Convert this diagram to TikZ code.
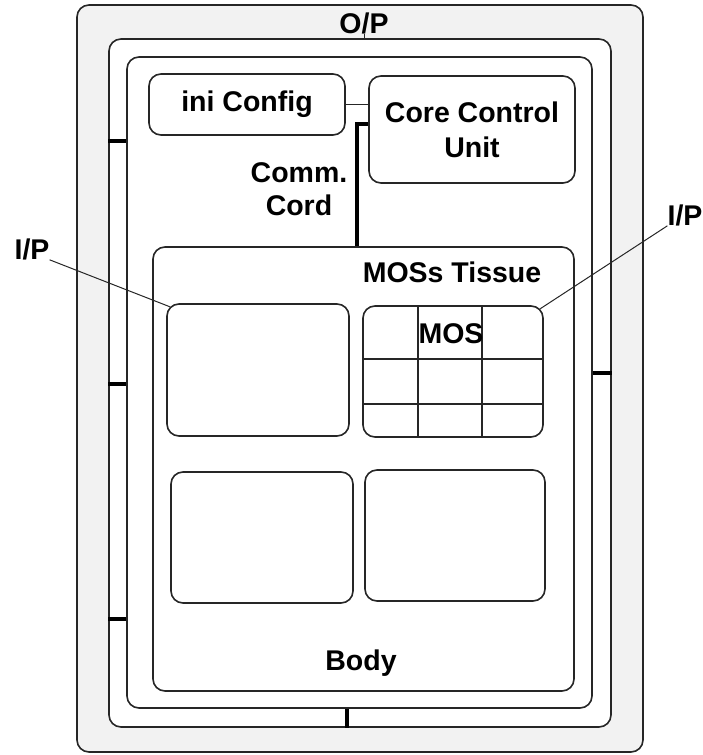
\documentclass[tikz,border=0pt]{standalone}
\usepackage{fontspec}
\setmainfont{Liberation Sans}

\begin{document}
\begin{tikzpicture}[x=1pt, y=-1pt,
  box/.style={draw=black!85, line width=1.6pt, rounded corners=12pt, fill=white, inner sep=0pt},
  lbl/.style={font=\fontsize{28.5}{35}\selectfont\bfseries, inner sep=0pt, align=center},
  tick/.style={draw=black, line width=3.2pt},
  wire/.style={draw=black!85, line width=1.6pt},
  lead/.style={draw=black!85, line width=1pt}]
  \useasboundingbox (0,0) rectangle (703,755);
  \node[box, fill=gray!10, minimum width=566pt, minimum height=747pt] (case) at (360,378.5) {};
  \node[box, minimum width=502pt, minimum height=688pt] (wall) at (360,383) {};
  \node[box, minimum width=465pt, minimum height=651pt] (skin) at (359.5,382.5) {};
  \node[box, minimum width=421pt, minimum height=444pt] (body) at (363.5,469) {};
  \node[box, lbl, minimum width=196pt, minimum height=61pt] (ini) at (247,104.5) {ini Config};
  \node[box, lbl, minimum width=206pt, minimum height=107pt] (ccu) at (472,129.5) {Core Control\\Unit};
  \node[box, minimum width=182pt, minimum height=132pt] (tisa) at (258,370) {};
  \node[box, minimum width=180pt, minimum height=131pt] (mos) at (453,371.5) {};
  \node[box, minimum width=182pt, minimum height=131pt] (tisc) at (262,537.5) {};
  \node[box, minimum width=180pt, minimum height=131pt] (tisd) at (455,535.5) {};
  \foreach \x in {418,482}
    \draw[wire] (\x,0 |- mos.north) -- (\x,0 |- mos.south);
  \foreach \y in {359,404}
    \draw[wire] (mos.west |- 0,\y) -- (mos.east |- 0,\y);
  \node[lbl] (moslbl) at (451,334) {MOS};
  \node[lbl] (tissue) at (452,272.5) {MOSs Tissue};
  \node[lbl] (bodylbl) at (361,663) {Body};
  \node[lbl] (comm) at (299,189) {Comm.\\[-2pt]Cord};
  \node[lbl] (op) at (364,23.5) {O/P};
  \node[lbl] (ipl) at (32,249) {I/P};
  \node[lbl] (ipr) at (685,215) {I/P};
  \draw[wire] (ini.east) -- (ini.east -| ccu.west);
  \draw[tick] ([yshift=5.5pt]ccu.west) -| (body.north -| 357,0);
  \draw[lead] (op.south) -- (op.south |- wall.north);
  \draw[lead] (ipl.south east) -- ([shift={(3.5,3.5)}]tisa.north west);
  \draw[lead] (ipr.south west) -- ([shift={(-3.5,3.5)}]mos.north east);
  \foreach \y in {141,384,619}
    \draw[tick] (wall.west |- 0,\y) -- (skin.west |- 0,\y);
  \draw[tick] (skin.east |- 0,373) -- (wall.east |- 0,373);
  \draw[tick] (skin.south -| 347,0) -- (wall.south -| 347,0);
\end{tikzpicture}
\end{document}
